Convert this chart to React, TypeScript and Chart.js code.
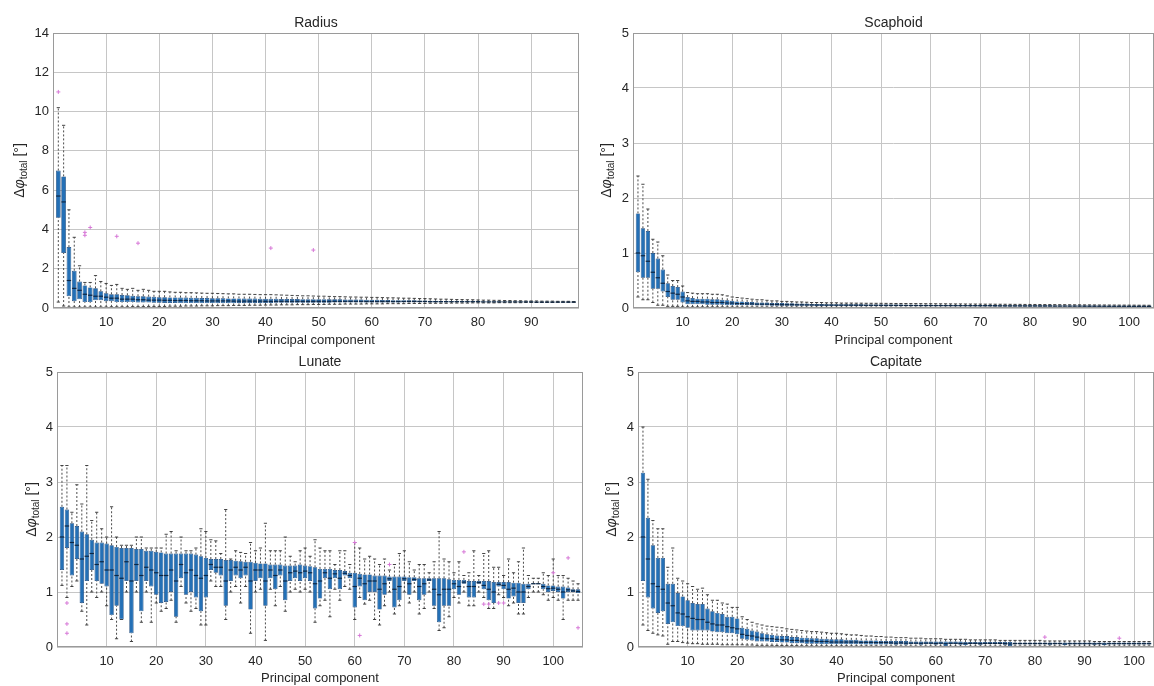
import React, { useEffect, useRef } from 'react';
import { Chart, registerables } from 'chart.js';
Chart.register(...registerables);

const FONT = "'Liberation Sans', Arial, Helvetica, sans-serif";

// ---------------- Radius (98 components) ----------------
const radiusQ1 = [
  4.6, 2.8, 0.6, 0.35, 0.45, 0.3, 0.3, 0.4, 0.4, 0.35,
  0.35, 0.3, 0.3, 0.3, 0.3, 0.28, 0.28, 0.28, 0.27, 0.27,
  0.26, 0.26, 0.26, 0.25, 0.25, 0.25, 0.25, 0.25, 0.25, 0.25,
  0.25, 0.25, 0.25, 0.25, 0.26, 0.26, 0.26, 0.26, 0.26, 0.26,
  0.26, 0.27, 0.27, 0.27, 0.27, 0.27, 0.27, 0.27, 0.27, 0.27,
  0.27, 0.27, 0.28, 0.28, 0.28, 0.28, 0.28, 0.28, 0.28, 0.28,
  0.28, 0.28, 0.28, 0.28, 0.28, 0.29, 0.29, 0.29, 0.29, 0.29,
  0.29, 0.29, 0.29, 0.29, 0.3, 0.3, 0.3, 0.3, 0.3, 0.3,
  0.3, 0.3, 0.3, 0.3, 0.3, 0.3, 0.3, 0.3, 0.3, 0.3,
  0.3, 0.3, 0.3, 0.3, 0.3, 0.3, 0.3, 0.3,
];
const radiusQ3 = [
  7.0, 6.7, 3.1, 1.9, 1.35, 1.15, 1.05, 1.0, 0.85, 0.75,
  0.7, 0.7, 0.66, 0.65, 0.62, 0.6, 0.6, 0.58, 0.57, 0.55,
  0.55, 0.54, 0.54, 0.53, 0.53, 0.52, 0.52, 0.51, 0.51, 0.5,
  0.5, 0.5, 0.49, 0.49, 0.49, 0.48, 0.48, 0.48, 0.47, 0.47,
  0.47, 0.47, 0.46, 0.46, 0.46, 0.46, 0.45, 0.45, 0.45, 0.45,
  0.45, 0.44, 0.44, 0.44, 0.43, 0.43, 0.43, 0.43, 0.42, 0.42,
  0.42, 0.41, 0.41, 0.4, 0.4, 0.4, 0.39, 0.39, 0.38, 0.38,
  0.37, 0.37, 0.36, 0.36, 0.35, 0.35, 0.35, 0.34, 0.34, 0.34,
  0.33, 0.33, 0.33, 0.33, 0.32, 0.32, 0.32, 0.32, 0.32, 0.32,
  0.31, 0.31, 0.31, 0.31, 0.31, 0.31, 0.31, 0.31,
];
const radiusMed = [
  5.7, 5.4, 1.4, 1.0, 0.9, 0.7, 0.65, 0.6, 0.6, 0.55,
  0.5, 0.5, 0.45, 0.45, 0.45, 0.42, 0.42, 0.4, 0.4, 0.4,
  0.39, 0.39, 0.38, 0.38, 0.38, 0.37, 0.37, 0.37, 0.36, 0.36,
  0.36, 0.36, 0.36, 0.35, 0.35, 0.35, 0.35, 0.35, 0.35, 0.34,
  0.34, 0.34, 0.34, 0.34, 0.34, 0.34, 0.34, 0.34, 0.34, 0.34,
  0.34, 0.34, 0.34, 0.34, 0.34, 0.34, 0.34, 0.34, 0.33, 0.33,
  0.33, 0.33, 0.33, 0.33, 0.33, 0.33, 0.33, 0.33, 0.33, 0.33,
  0.32, 0.32, 0.32, 0.32, 0.32, 0.32, 0.32, 0.32, 0.32, 0.32,
  0.31, 0.31, 0.31, 0.31, 0.31, 0.31, 0.31, 0.31, 0.31, 0.31,
  0.3, 0.3, 0.3, 0.3, 0.3, 0.3, 0.3, 0.3,
];
const radiusLo = [
  0.3, 0.1, 0.05, 0.05, 0.05, 0.05, 0.05, 0.05, 0.05, 0.05,
  0.06, 0.06, 0.06, 0.06, 0.07, 0.07, 0.07, 0.08, 0.08, 0.08,
  0.08, 0.09, 0.09, 0.09, 0.1, 0.1, 0.1, 0.11, 0.11, 0.11,
  0.12, 0.12, 0.12, 0.13, 0.13, 0.13, 0.14, 0.14, 0.14, 0.15,
  0.15, 0.15, 0.16, 0.16, 0.16, 0.17, 0.17, 0.17, 0.18, 0.18,
  0.18, 0.19, 0.19, 0.19, 0.2, 0.2, 0.2, 0.2, 0.21, 0.21,
  0.21, 0.21, 0.22, 0.22, 0.22, 0.22, 0.23, 0.23, 0.23, 0.23,
  0.24, 0.24, 0.24, 0.24, 0.25, 0.25, 0.25, 0.25, 0.26, 0.26,
  0.26, 0.26, 0.26, 0.27, 0.27, 0.27, 0.27, 0.27, 0.28, 0.28,
  0.28, 0.28, 0.28, 0.28, 0.29, 0.29, 0.29, 0.29,
];
const radiusHi = [
  10.2, 9.3, 5.0, 3.6, 2.15, 1.3, 1.3, 1.65, 1.35, 1.25,
  1.15, 1.2, 1.0, 0.95, 1.0, 0.9, 0.95, 0.9, 0.85, 0.85,
  0.85, 0.82, 0.8, 0.8, 0.78, 0.78, 0.77, 0.76, 0.75, 0.75,
  0.74, 0.73, 0.72, 0.72, 0.7, 0.7, 0.7, 0.69, 0.68, 0.68,
  0.68, 0.67, 0.66, 0.65, 0.64, 0.63, 0.62, 0.62, 0.61, 0.6,
  0.6, 0.59, 0.58, 0.58, 0.57, 0.56, 0.56, 0.55, 0.55, 0.54,
  0.54, 0.53, 0.52, 0.52, 0.51, 0.5, 0.5, 0.49, 0.48, 0.48,
  0.47, 0.46, 0.45, 0.45, 0.44, 0.43, 0.43, 0.42, 0.42, 0.41,
  0.4, 0.4, 0.39, 0.39, 0.38, 0.38, 0.37, 0.37, 0.36, 0.36,
  0.36, 0.35, 0.35, 0.35, 0.34, 0.34, 0.34, 0.33,
];
const radiusOutliers = [[1, 11.0], [6, 3.7], [6, 3.85], [7, 4.1], [12, 3.65], [16, 3.3], [41, 3.05], [49, 2.95]];

// ---------------- Scaphoid (104 components) ----------------
const scaphoidQ1 = [
  0.65, 0.55, 0.55, 0.35, 0.35, 0.3, 0.2, 0.15, 0.15, 0.1,
  0.07, 0.07, 0.07, 0.07, 0.06, 0.06, 0.06, 0.06, 0.05, 0.05,
  0.05, 0.05, 0.05, 0.05, 0.045, 0.045, 0.045, 0.04, 0.04, 0.04,
  0.04, 0.04, 0.04, 0.04, 0.04, 0.04, 0.038, 0.038, 0.038, 0.038,
  0.037, 0.037, 0.037, 0.036, 0.036, 0.036, 0.035, 0.035, 0.035, 0.035,
  0.034, 0.034, 0.034, 0.034, 0.033, 0.033, 0.033, 0.033, 0.032, 0.032,
  0.032, 0.032, 0.031, 0.031, 0.031, 0.031, 0.03, 0.03, 0.03, 0.03,
  0.03, 0.03, 0.029, 0.029, 0.029, 0.029, 0.028, 0.028, 0.028, 0.028,
  0.028, 0.027, 0.027, 0.027, 0.027, 0.026, 0.026, 0.026, 0.026, 0.026,
  0.025, 0.025, 0.025, 0.025, 0.025, 0.024, 0.024, 0.024, 0.024, 0.024, 0.023, 0.023, 0.023, 0.023,
];
const scaphoidQ3 = [
  1.72, 1.45, 1.4, 1.0, 0.9, 0.7, 0.45, 0.4, 0.38, 0.3,
  0.2, 0.18, 0.17, 0.17, 0.17, 0.16, 0.16, 0.15, 0.14, 0.13,
  0.12, 0.12, 0.11, 0.11, 0.1, 0.1, 0.1, 0.09, 0.09, 0.09,
  0.085, 0.085, 0.08, 0.08, 0.08, 0.075, 0.075, 0.075, 0.07, 0.07,
  0.07, 0.07, 0.068, 0.068, 0.066, 0.066, 0.065, 0.065, 0.064, 0.064,
  0.063, 0.063, 0.062, 0.062, 0.061, 0.061, 0.06, 0.06, 0.06, 0.059,
  0.059, 0.058, 0.058, 0.057, 0.057, 0.056, 0.056, 0.055, 0.055, 0.054,
  0.054, 0.053, 0.053, 0.052, 0.052, 0.051, 0.051, 0.05, 0.05, 0.05,
  0.049, 0.049, 0.048, 0.048, 0.047, 0.047, 0.046, 0.046, 0.045, 0.045,
  0.045, 0.044, 0.044, 0.043, 0.043, 0.042, 0.042, 0.042, 0.041, 0.041, 0.04, 0.04, 0.04, 0.04,
];
const scaphoidMed = [
  1.0, 0.95, 0.85, 0.65, 0.55, 0.45, 0.3, 0.27, 0.25, 0.2,
  0.13, 0.12, 0.12, 0.11, 0.11, 0.1, 0.1, 0.1, 0.09, 0.09,
  0.08, 0.08, 0.075, 0.075, 0.07, 0.07, 0.07, 0.065, 0.065, 0.06,
  0.06, 0.06, 0.058, 0.058, 0.056, 0.056, 0.055, 0.055, 0.054, 0.054,
  0.053, 0.053, 0.052, 0.052, 0.051, 0.051, 0.05, 0.05, 0.05, 0.049,
  0.049, 0.048, 0.048, 0.047, 0.047, 0.046, 0.046, 0.045, 0.045, 0.045,
  0.044, 0.044, 0.043, 0.043, 0.042, 0.042, 0.042, 0.041, 0.041, 0.04,
  0.04, 0.04, 0.039, 0.039, 0.039, 0.038, 0.038, 0.038, 0.037, 0.037,
  0.037, 0.036, 0.036, 0.036, 0.035, 0.035, 0.035, 0.034, 0.034, 0.034,
  0.034, 0.033, 0.033, 0.033, 0.033, 0.032, 0.032, 0.032, 0.032, 0.031, 0.031, 0.031, 0.031, 0.03,
];
const scaphoidLo = [
  0.2, 0.15, 0.15, 0.1, 0.05, 0.05, 0.03, 0.03, 0.03, 0.02,
  0.02, 0.02, 0.02, 0.02, 0.02, 0.02, 0.02, 0.02, 0.018, 0.018,
  0.018, 0.018, 0.017, 0.017, 0.017, 0.016, 0.016, 0.016, 0.015, 0.015,
  0.015, 0.015, 0.015, 0.014, 0.014, 0.014, 0.014, 0.014, 0.013, 0.013,
  0.013, 0.013, 0.013, 0.013, 0.012, 0.012, 0.012, 0.012, 0.012, 0.012,
  0.012, 0.011, 0.011, 0.011, 0.011, 0.011, 0.011, 0.011, 0.011, 0.011,
  0.01, 0.01, 0.01, 0.01, 0.01, 0.01, 0.01, 0.01, 0.01, 0.01,
  0.01, 0.01, 0.01, 0.01, 0.01, 0.01, 0.01, 0.01, 0.01, 0.01,
  0.01, 0.01, 0.01, 0.01, 0.01, 0.01, 0.01, 0.01, 0.01, 0.01,
  0.01, 0.01, 0.01, 0.01, 0.01, 0.01, 0.01, 0.01, 0.01, 0.01, 0.01, 0.01, 0.01, 0.01,
];
const scaphoidHi = [
  2.4, 2.25, 1.8, 1.25, 1.2, 0.95, 0.6, 0.5, 0.5, 0.4,
  0.28, 0.27, 0.26, 0.26, 0.26, 0.25, 0.25, 0.24, 0.22, 0.2,
  0.19, 0.18, 0.17, 0.16, 0.15, 0.15, 0.14, 0.13, 0.13, 0.12,
  0.12, 0.115, 0.11, 0.11, 0.105, 0.1, 0.1, 0.1, 0.095, 0.095,
  0.095, 0.09, 0.09, 0.09, 0.088, 0.088, 0.086, 0.086, 0.085, 0.085,
  0.084, 0.083, 0.082, 0.082, 0.081, 0.08, 0.08, 0.079, 0.078, 0.078,
  0.077, 0.076, 0.076, 0.075, 0.074, 0.074, 0.073, 0.072, 0.072, 0.071,
  0.07, 0.07, 0.069, 0.068, 0.068, 0.067, 0.066, 0.066, 0.065, 0.064,
  0.064, 0.063, 0.062, 0.062, 0.061, 0.06, 0.06, 0.059, 0.058, 0.058,
  0.057, 0.057, 0.056, 0.055, 0.055, 0.054, 0.054, 0.053, 0.053, 0.052, 0.052, 0.051, 0.051, 0.05,
];
const scaphoidOutliers: number[][] = [];

// ---------------- Lunate (105 components) ----------------
const lunateQ1 = [
  1.4, 1.8, 1.3, 1.6, 0.8, 1.2, 1.4, 1.2, 1.15, 1.1,
  0.58, 0.75, 0.5, 1.2, 0.25, 1.2, 0.65, 1.2, 1.1, 0.95,
  0.8, 0.82, 1.0, 0.55, 1.25, 0.95, 1.0, 0.9, 0.65, 0.9,
  1.4, 1.35, 1.3, 0.75, 1.2, 1.3, 1.25, 1.3, 0.68, 1.2,
  1.25, 0.75, 1.25, 1.05, 1.3, 0.85, 1.2, 1.25, 1.2, 1.25,
  1.2, 0.7, 0.88, 1.25, 1.05, 1.25, 1.05, 1.3, 1.25, 0.72,
  1.1, 0.85, 1.0, 1.0, 0.68, 0.95, 1.2, 0.72, 0.85, 1.2,
  0.95, 1.2, 0.85, 0.95, 1.2, 0.75, 0.45, 0.75, 0.75, 1.05,
  0.95, 1.15, 0.9, 0.9, 1.15, 1.05, 0.85, 0.8, 1.1, 1.05,
  0.88, 0.92, 0.8, 0.8, 1.05, 1.14, 1.14, 1.05, 1.0, 1.02,
  1.0, 0.88, 1.0, 1.0, 0.98,
];
const lunateQ3 = [
  2.55, 2.5, 2.25, 2.2, 2.1, 2.05, 1.95, 1.9, 1.9, 1.88,
  1.85, 1.82, 1.8, 1.8, 1.8, 1.78, 1.78, 1.75, 1.75, 1.73,
  1.72, 1.7, 1.7, 1.7, 1.7, 1.7, 1.7, 1.68, 1.65, 1.62,
  1.6, 1.6, 1.6, 1.58, 1.58, 1.57, 1.56, 1.55, 1.55, 1.53,
  1.52, 1.52, 1.5, 1.5, 1.5, 1.48, 1.48, 1.48, 1.5, 1.48,
  1.47, 1.45, 1.42, 1.42, 1.42, 1.4, 1.4, 1.38, 1.35, 1.35,
  1.33, 1.32, 1.32, 1.3, 1.3, 1.3, 1.28, 1.28, 1.28, 1.28,
  1.27, 1.27, 1.25, 1.25, 1.25, 1.25, 1.25, 1.25, 1.23, 1.22,
  1.22, 1.22, 1.2, 1.2, 1.2, 1.2, 1.2, 1.18, 1.18, 1.18,
  1.18, 1.17, 1.17, 1.15, 1.15, 1.16, 1.16, 1.15, 1.12, 1.12,
  1.1, 1.1, 1.08, 1.05, 1.05,
];
const lunateMed = [
  2.0, 2.2, 1.9, 1.85, 1.6, 1.65, 1.7, 1.5, 1.55, 1.4,
  1.4, 1.3, 1.25, 1.55, 1.2, 1.5, 1.3, 1.45, 1.4, 1.35,
  1.3, 1.3, 1.4, 1.2, 1.5, 1.35, 1.4, 1.3, 1.25, 1.3,
  1.5, 1.45, 1.45, 1.2, 1.4, 1.45, 1.4, 1.45, 1.2, 1.4,
  1.4, 1.2, 1.4, 1.3, 1.4, 1.2, 1.35, 1.38, 1.35, 1.38,
  1.35, 1.15, 1.2, 1.35, 1.25, 1.33, 1.25, 1.34, 1.3, 1.1,
  1.25, 1.15, 1.2, 1.2, 1.05, 1.15, 1.24, 1.05, 1.1, 1.24,
  1.15, 1.23, 1.1, 1.15, 1.22, 1.05, 0.95, 1.05, 1.05, 1.15,
  1.1, 1.18, 1.1, 1.1, 1.17, 1.12, 1.05, 1.0, 1.14, 1.12,
  1.05, 1.07, 1.0, 1.0, 1.1, 1.15, 1.15, 1.1, 1.06, 1.07,
  1.05, 1.0, 1.04, 1.02, 1.01,
];
const lunateLo = [
  1.12, 0.9, 1.1, 1.2, 0.65, 0.4, 1.0, 0.9, 1.0, 0.75,
  0.5, 0.15, 0.5, 1.0, 0.1, 1.0, 0.45, 1.0, 0.45, 0.8,
  0.65, 0.7, 0.85, 0.45, 1.1, 0.8, 0.65, 0.7, 0.4, 0.4,
  1.2, 1.1, 1.1, 0.5, 1.0, 1.1, 0.8, 1.1, 0.25, 1.0,
  1.05, 0.12, 1.05, 0.75, 1.1, 0.65, 1.0, 1.05, 1.0, 1.05,
  1.0, 0.45, 0.75, 0.85, 0.55, 1.05, 0.85, 1.1, 1.05, 0.5,
  0.9, 0.78, 0.85, 0.5, 0.4, 0.75, 1.0, 0.6, 0.75, 1.0,
  0.8, 1.0, 0.6, 0.7, 1.0, 0.7, 0.3, 0.35, 0.55, 0.9,
  0.8, 1.0, 0.75, 0.75, 1.0, 0.9, 0.7, 0.7, 0.95, 0.9,
  0.75, 0.8, 0.6, 0.6, 0.9, 1.0, 1.0, 0.95, 0.85, 0.9,
  0.85, 0.5, 0.85, 0.85, 0.85,
];
const lunateHi = [
  3.3, 3.3, 2.45, 2.95, 2.6, 3.3, 2.3, 2.45, 2.15, 2.0,
  2.55, 2.0, 1.85, 1.85, 1.85, 2.0, 2.0, 1.8, 1.8, 1.8,
  1.8, 2.05, 2.1, 1.75, 2.0, 1.75, 1.75, 1.8, 2.15, 2.1,
  1.95, 1.93, 1.7, 2.5, 1.6, 1.75, 1.72, 1.7, 1.9, 1.75,
  1.8, 2.25, 1.75, 1.75, 1.75, 2.0, 1.65, 1.55, 1.75, 1.8,
  1.65, 1.95, 1.8, 1.75, 1.75, 1.5, 1.75, 1.75, 1.5, 1.9,
  1.8, 1.6, 1.65, 1.6, 1.5, 1.6, 1.4, 1.5, 1.7, 1.75,
  1.55, 1.4, 1.5, 1.5, 1.35, 1.55, 2.1, 1.6, 1.55, 1.35,
  1.55, 1.3, 1.35, 1.75, 1.3, 1.7, 1.75, 1.45, 1.45, 1.3,
  1.6, 1.35, 1.55, 1.8, 1.3, 1.25, 1.25, 1.35, 1.3, 1.6,
  1.3, 1.3, 1.25, 1.2, 1.15,
];
const lunateOutliers = [
  [2, 0.8], [2, 0.42], [2, 0.25], [61, 0.21], [60, 1.9], [67, 1.5], [86, 0.78], [87, 0.78],
  [89, 0.8], [90, 0.8], [82, 1.73], [103, 1.62], [105, 0.35], [100, 1.35],
];

// ---------------- Capitate (103 components) ----------------
const capitateQ1 = [
  1.2, 0.9, 0.7, 0.62, 0.65, 0.42, 0.45, 0.38, 0.38, 0.35,
  0.3, 0.3, 0.3, 0.3, 0.28, 0.27, 0.27, 0.25, 0.25, 0.23,
  0.15, 0.13, 0.12, 0.1, 0.1, 0.1, 0.09, 0.09, 0.08, 0.08,
  0.07, 0.07, 0.07, 0.06, 0.06, 0.06, 0.05, 0.05, 0.05, 0.05,
  0.05, 0.05, 0.05, 0.05, 0.05, 0.045, 0.045, 0.045, 0.045, 0.045,
  0.05, 0.04, 0.05, 0.04, 0.05, 0.05, 0.04, 0.05, 0.05, 0.04,
  0.05, 0.02, 0.05, 0.05, 0.04, 0.03, 0.05, 0.05, 0.04, 0.05,
  0.05, 0.05, 0.05, 0.04, 0.02, 0.05, 0.05, 0.05, 0.05, 0.05,
  0.05, 0.05, 0.04, 0.05, 0.05, 0.03, 0.05, 0.05, 0.05, 0.05,
  0.05, 0.04, 0.05, 0.03, 0.05, 0.05, 0.05, 0.05, 0.05, 0.05, 0.05, 0.05, 0.05,
];
const capitateQ3 = [
  3.17, 2.35, 1.85, 1.62, 1.62, 1.15, 1.15, 0.98, 0.92, 0.85,
  0.8, 0.78, 0.78, 0.7, 0.65, 0.62, 0.6, 0.55, 0.55, 0.52,
  0.35, 0.33, 0.3, 0.28, 0.25, 0.23, 0.22, 0.21, 0.2, 0.2,
  0.18, 0.18, 0.17, 0.17, 0.16, 0.16, 0.15, 0.15, 0.14, 0.14,
  0.14, 0.13, 0.13, 0.13, 0.12, 0.12, 0.12, 0.12, 0.11, 0.11,
  0.11, 0.11, 0.11, 0.11, 0.1, 0.1, 0.1, 0.1, 0.1, 0.1,
  0.1, 0.1, 0.1, 0.1, 0.1, 0.09, 0.09, 0.09, 0.09, 0.09,
  0.09, 0.09, 0.09, 0.09, 0.09, 0.08, 0.08, 0.08, 0.08, 0.08,
  0.08, 0.08, 0.08, 0.08, 0.08, 0.08, 0.08, 0.08, 0.08, 0.08,
  0.08, 0.08, 0.08, 0.08, 0.08, 0.08, 0.08, 0.08, 0.08, 0.08, 0.08, 0.08, 0.08,
];
const capitateMed = [
  2.0, 1.6, 1.15, 1.1, 1.05, 0.8, 0.75, 0.62, 0.6, 0.55,
  0.52, 0.5, 0.5, 0.45, 0.42, 0.4, 0.4, 0.37, 0.35, 0.33,
  0.23, 0.21, 0.2, 0.18, 0.16, 0.15, 0.15, 0.14, 0.13, 0.13,
  0.12, 0.12, 0.11, 0.11, 0.11, 0.1, 0.1, 0.1, 0.09, 0.09,
  0.09, 0.09, 0.09, 0.09, 0.085, 0.085, 0.085, 0.08, 0.08, 0.08,
  0.075, 0.07, 0.075, 0.07, 0.07, 0.07, 0.068, 0.07, 0.07, 0.065,
  0.07, 0.06, 0.068, 0.068, 0.065, 0.06, 0.066, 0.066, 0.062, 0.065,
  0.065, 0.065, 0.065, 0.062, 0.055, 0.062, 0.062, 0.062, 0.062, 0.062,
  0.062, 0.062, 0.06, 0.062, 0.062, 0.055, 0.06, 0.06, 0.06, 0.06,
  0.06, 0.058, 0.06, 0.055, 0.06, 0.06, 0.06, 0.06, 0.06, 0.06, 0.06, 0.06, 0.06,
];
const capitateLo = [
  0.4, 0.3, 0.25, 0.22, 0.2, 0.05, 0.1, 0.1, 0.08, 0.07,
  0.06, 0.06, 0.05, 0.05, 0.05, 0.05, 0.04, 0.04, 0.04, 0.04,
  0.04, 0.035, 0.035, 0.03, 0.03, 0.03, 0.03, 0.028, 0.028, 0.025,
  0.025, 0.025, 0.022, 0.022, 0.02, 0.02, 0.02, 0.02, 0.02, 0.02,
  0.02, 0.02, 0.018, 0.018, 0.018, 0.018, 0.018, 0.018, 0.015, 0.015,
  0.015, 0.015, 0.015, 0.015, 0.015, 0.015, 0.015, 0.015, 0.015, 0.015,
  0.015, 0.01, 0.015, 0.015, 0.015, 0.01, 0.015, 0.015, 0.015, 0.015,
  0.015, 0.015, 0.015, 0.015, 0.01, 0.015, 0.015, 0.015, 0.015, 0.015,
  0.015, 0.015, 0.015, 0.015, 0.015, 0.01, 0.015, 0.015, 0.015, 0.015,
  0.015, 0.015, 0.015, 0.01, 0.015, 0.015, 0.015, 0.015, 0.015, 0.015, 0.015, 0.015, 0.015,
];
const capitateHi = [
  4.0, 3.05, 2.3, 2.15, 2.15, 1.45, 1.8, 1.25, 1.2, 1.15,
  1.1, 1.05, 1.07, 0.95, 0.85, 0.85, 0.8, 0.78, 0.72, 0.72,
  0.55, 0.5, 0.45, 0.42, 0.4, 0.38, 0.37, 0.36, 0.35, 0.33,
  0.32, 0.31, 0.3, 0.29, 0.28, 0.28, 0.27, 0.26, 0.25, 0.25,
  0.24, 0.23, 0.22, 0.22, 0.21, 0.2, 0.2, 0.19, 0.19, 0.18,
  0.18, 0.17, 0.17, 0.17, 0.16, 0.16, 0.16, 0.15, 0.15, 0.15,
  0.15, 0.14, 0.14, 0.14, 0.14, 0.14, 0.13, 0.13, 0.13, 0.13,
  0.13, 0.13, 0.12, 0.12, 0.12, 0.12, 0.12, 0.12, 0.12, 0.12,
  0.12, 0.11, 0.11, 0.11, 0.11, 0.11, 0.11, 0.11, 0.11, 0.11,
  0.11, 0.1, 0.1, 0.1, 0.1, 0.1, 0.1, 0.1, 0.1, 0.1, 0.1, 0.1, 0.1,
];
const capitateOutliers = [[82, 0.18], [97, 0.16]];

// ---------------- chart plumbing ----------------
type PanelSpec = {
  title: string;
  q1: number[]; q3: number[]; med: number[]; lo: number[]; hi: number[]; out: number[][];
  yMax: number; yStep: number; xMax: number;
  left: number; top: number; width: number; height: number;
  axisW: number; padRight: number; titlePadTop: number; titlePadBottom: number;
  xAxisH: number; xTitlePadBottom: number; labelOffset: number;
};

const TEXT = '#262626';
const GRID = '#c6c6c6';
const FRAME = '#9a9a9a';
const BOX_FILL = 'rgb(36,112,182)';
const BOX_EDGE = 'rgb(20,66,118)';

function makeConfig(spec: PanelSpec): any {
  const comp = spec.q1.map((_, i) => i + 1);
  const boxes = comp.map((x, i) => ({ x, y: [spec.q1[i], spec.q3[i]] }));
  const whiskers: any[] = [];
  comp.forEach((x, i) => {
    whiskers.push({ x, y: spec.q3[i] }, { x, y: spec.hi[i] }, { x, y: null });
    whiskers.push({ x, y: spec.lo[i] }, { x, y: spec.q1[i] }, { x, y: null });
  });
  const caps = comp.flatMap((x, i) => [{ x, y: spec.hi[i] }, { x, y: spec.lo[i] }]);
  const meds = comp.map((x, i) => ({ x, y: spec.med[i] }));
  const outs = spec.out.map(([x, y]) => ({ x, y }));

  const framePlugin = {
    id: 'frameAndLabel',
    afterDatasetsDraw(chart: any) {
      const { ctx, chartArea: a } = chart;
      ctx.save();
      ctx.strokeStyle = FRAME;
      ctx.lineWidth = 1;
      ctx.strokeRect(Math.round(a.left) + 0.5, Math.round(a.top) + 0.5, Math.round(a.right - a.left) - 1, Math.round(a.bottom - a.top) - 1);
      ctx.restore();
    },
    afterDraw(chart: any) {
      const { ctx, chartArea: a } = chart;
      const main = `14px ${FONT}`;
      const ital = `italic 14px ${FONT}`;
      const sub = `10px ${FONT}`;
      ctx.save();
      ctx.translate(a.left - spec.labelOffset, (a.top + a.bottom) / 2);
      ctx.rotate(-Math.PI / 2);
      ctx.fillStyle = TEXT;
      ctx.textBaseline = 'middle';
      ctx.textAlign = 'left';
      ctx.font = main; const w1 = ctx.measureText('Δ').width;
      ctx.font = ital; const w2 = ctx.measureText('φ').width;
      ctx.font = sub; const w3 = ctx.measureText('total').width;
      ctx.font = main; const w4 = ctx.measureText(' [°]').width;
      let cx = -(w1 + w2 + w3 + w4) / 2;
      ctx.font = main; ctx.fillText('Δ', cx, 0); cx += w1;
      ctx.font = ital; ctx.fillText('φ', cx, 0); cx += w2;
      ctx.font = sub; ctx.fillText('total', cx, 4); cx += w3;
      ctx.font = main; ctx.fillText(' [°]', cx, 0);
      ctx.restore();
    },
  };

  return {
    type: 'bar',
    data: {
      datasets: [
        {
          type: 'line', label: 'whiskers', data: whiskers, spanGaps: false,
          borderColor: 'rgba(55,55,55,0.9)', borderWidth: 1, borderDash: [2, 2],
          pointRadius: 0, fill: false, order: 5,
        },
        {
          type: 'bar', label: 'boxes', data: boxes,
          backgroundColor: BOX_FILL, borderColor: BOX_EDGE, borderWidth: 0.7, borderSkipped: false,
          barPercentage: 0.88, categoryPercentage: 1, order: 4,
        },
        {
          type: 'scatter', label: 'caps', data: caps, pointStyle: 'line', pointRadius: 1.6,
          borderColor: 'rgba(50,50,50,0.9)', borderWidth: 1, order: 3,
        },
        {
          type: 'scatter', label: 'medians', data: meds, pointStyle: 'line', pointRadius: 2.2,
          borderColor: 'rgb(12,38,68)', borderWidth: 1.2, order: 2,
        },
        {
          type: 'scatter', label: 'outliers', data: outs, pointStyle: 'cross', pointRadius: 2,
          borderColor: 'rgb(215,120,215)', borderWidth: 1, order: 1,
        },
      ],
    },
    options: {
      animation: false,
      responsive: true,
      maintainAspectRatio: false,
      events: [],
      layout: { autoPadding: false, padding: { top: 0, right: spec.padRight, bottom: 0, left: 0 } },
      plugins: {
        legend: { display: false },
        tooltip: { enabled: false },
        title: {
          display: true, text: spec.title, fullSize: false, color: TEXT,
          font: { family: FONT, size: 14, weight: 'normal' },
          padding: { top: spec.titlePadTop, bottom: spec.titlePadBottom },
        },
      },
      scales: {
        x: {
          type: 'linear', min: 0, max: spec.xMax, offset: false,
          grid: { offset: false, color: GRID, lineWidth: 1, drawTicks: false },
          border: { display: false },
          ticks: {
            stepSize: 10, maxTicksLimit: 30, includeBounds: false, autoSkip: false, maxRotation: 0,
            color: TEXT, font: { family: FONT, size: 13 }, padding: 7,
          },
          title: { display: true, text: 'Principal component', color: TEXT, font: { family: FONT, size: 13 }, padding: { top: 0, bottom: spec.xTitlePadBottom } },
          afterBuildTicks: (s: any) => { s.ticks = s.ticks.filter((t: any) => t.value > 0 && t.value % 10 === 0); },
          afterFit: (s: any) => { s.height = spec.xAxisH; s.paddingLeft = 0; s.paddingRight = 0; },
        },
        y: {
          type: 'linear', min: 0, max: spec.yMax,
          grid: { color: GRID, lineWidth: 1, drawTicks: false },
          border: { display: false },
          ticks: { stepSize: spec.yStep, color: TEXT, font: { family: FONT, size: 13 }, padding: 4 },
          afterFit: (s: any) => { s.width = spec.axisW; s.paddingTop = 0; s.paddingBottom = 0; },
        },
      },
    },
    plugins: [framePlugin],
  };
}

const panels: PanelSpec[] = [
  {
    title: 'Radius', q1: radiusQ1, q3: radiusQ3, med: radiusMed, lo: radiusLo, hi: radiusHi, out: radiusOutliers,
    yMax: 14, yStep: 2, xMax: 99,
    left: 0, top: 0, width: 580, height: 350, axisW: 53, padRight: 1,
    titlePadTop: 15, titlePadBottom: 1.2, xAxisH: 42, xTitlePadBottom: 2.2, labelOffset: 33,
  },
  {
    title: 'Scaphoid', q1: scaphoidQ1, q3: scaphoidQ3, med: scaphoidMed, lo: scaphoidLo, hi: scaphoidHi, out: scaphoidOutliers,
    yMax: 5, yStep: 1, xMax: 105,
    left: 580, top: 0, width: 574, height: 350, axisW: 53, padRight: 0,
    titlePadTop: 15, titlePadBottom: 1.2, xAxisH: 42, xTitlePadBottom: 2.2, labelOffset: 26,
  },
  {
    title: 'Lunate', q1: lunateQ1, q3: lunateQ3, med: lunateMed, lo: lunateLo, hi: lunateHi, out: lunateOutliers,
    yMax: 5, yStep: 1, xMax: 106,
    left: 0, top: 350, width: 584, height: 336, axisW: 57, padRight: 1,
    titlePadTop: 4.1, titlePadBottom: 1.1, xAxisH: 39, xTitlePadBottom: 0.2, labelOffset: 25,
  },
  {
    title: 'Capitate', q1: capitateQ1, q3: capitateQ3, med: capitateMed, lo: capitateLo, hi: capitateHi, out: capitateOutliers,
    yMax: 5, yStep: 1, xMax: 104,
    left: 584, top: 350, width: 570, height: 336, axisW: 54, padRight: 0,
    titlePadTop: 4.1, titlePadBottom: 1.1, xAxisH: 39, xTitlePadBottom: 0.2, labelOffset: 26,
  },
];

function BoxPanel({ spec }: { spec: PanelSpec }) {
  const ref = useRef<HTMLCanvasElement | null>(null);
  useEffect(() => {
    if (!ref.current) return;
    const chart = new Chart(ref.current, makeConfig(spec));
    return () => chart.destroy();
  }, [spec]);
  return (
    <div style={{ position: 'absolute', left: spec.left, top: spec.top, width: spec.width, height: spec.height }}>
      <canvas ref={ref} />
    </div>
  );
}

export default function App() {
  return (
    <div style={{ position: 'fixed', left: 0, top: 0, width: 1154, height: 686, background: '#fff', overflow: 'hidden' }}>
      {panels.map((p) => (
        <BoxPanel key={p.title} spec={p} />
      ))}
    </div>
  );
}
